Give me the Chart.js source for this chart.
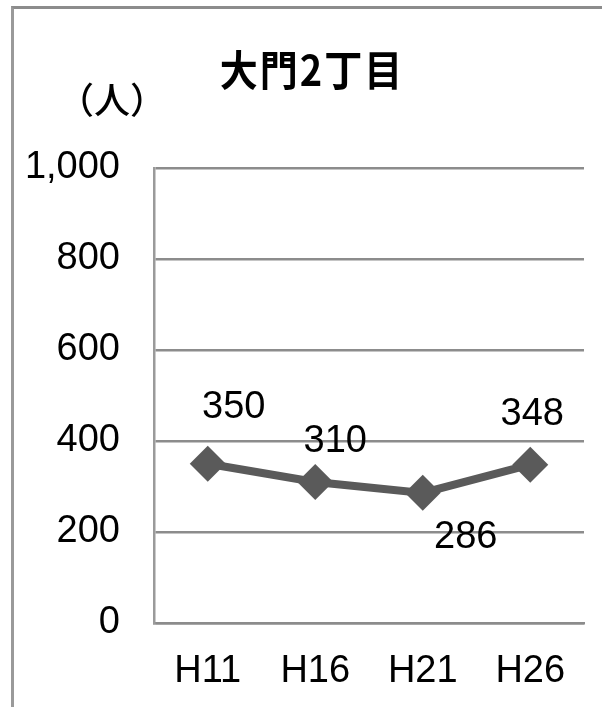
<!DOCTYPE html>
<html>
<head>
<meta charset="utf-8">
<script src="https://cdn.jsdelivr.net/npm/chart.js@4/dist/chart.umd.min.js"></script>
<style>
  html, body { margin: 0; padding: 0; background: #fff; }
  #frame {
    position: absolute; left: 11px; top: 6px; width: 620px; height: 720px;
    border-top: 3px solid #8c8c8c; border-left: 3px solid #9a9a9a;
  }
  #wrap { position: absolute; left: 0; top: 0; width: 602px; height: 707px; }
</style>
</head>
<body>
<div id="frame"></div>
<div id="wrap"><canvas id="myChart"></canvas></div>
<script>
// Population of 大門2丁目 by survey year
const years = ['H11', 'H16', 'H21', 'H26'];
const people = [350, 310, 286, 348];
const yTicks = [0, 200, 400, 600, 800, 1000];

// Where each value label sits relative to its marker (px)
const labelOffsets = [[26, -56], [20, -40], [43, 45], [2, -50]];

const textFont = "'Liberation Sans', Arial, sans-serif";
const cjkFont = "'Noto Sans CJK JP', sans-serif";

// Title, unit and value labels drawn straight on the canvas
const annotate = {
    id: 'annotate',
    afterDatasetsDraw(chart) {
        const ctx = chart.ctx;
        ctx.save();
        ctx.fillStyle = '#000';
        ctx.textAlign = 'center';
        ctx.textBaseline = 'middle';

        // title is drawn a touch taller than wide
        ctx.save();
        ctx.translate(312, 70);
        ctx.scale(1, 1.1);
        ctx.font = 'bold 38px ' + cjkFont;
        ctx.letterSpacing = '2px';
        ctx.fillText('大門2丁目', 0, 0);
        ctx.restore();

        ctx.font = '500 36px ' + cjkFont;
        ctx.fillText('（人）', 112, 100);

        ctx.font = '38px ' + textFont;
        chart.getDatasetMeta(0).data.forEach(function(pt, i) {
            const off = labelOffsets[i];
            ctx.fillText(String(people[i]), pt.x + off[0], pt.y + off[1]);
        });
        ctx.restore();
    }
};

const data = {
    labels: years,
    datasets: [{
        data: people,
        borderColor: '#5a5a5a',
        borderWidth: 8,
        tension: 0,
        pointStyle: 'rectRot',
        pointRadius: 18,
        pointBackgroundColor: '#5a5a5a',
        pointBorderWidth: 0
    }]
};

const config = {
    type: 'line',
    data,
    options: {
        responsive: false,
        animation: false,
        events: [],
        layout: { padding: { top: 168, right: 14, left: 0, bottom: 0 } },
        plugins: {
            legend: { display: false },
            tooltip: { enabled: false }
        },
        scales: {
            x: {
                offset: true,
                grid: { display: false },
                border: { display: true, color: '#8c8c8c', width: 2.5 },
                ticks: { color: '#000', padding: 18, font: { family: textFont, size: 38 } },
                afterFit(scale) { scale.height = 84; }
            },
            y: {
                min: 0,
                max: 1000,
                afterBuildTicks(scale) { scale.ticks = yTicks.map(v => ({ value: v })); },
                grid: { color: '#8c8c8c', lineWidth: 2.5, drawTicks: false },
                border: { display: true, color: '#9a9a9a', width: 2.5 },
                ticks: {
                    color: '#000',
                    padding: 34,
                    font: { family: textFont, size: 38 },
                    callback: v => v.toLocaleString('en-US')
                },
                afterFit(scale) { scale.width = 154; }
            }
        }
    },
    plugins: [annotate]
};

const canvas = document.getElementById('myChart');
canvas.width = 602;
canvas.height = 707;
const myChart = new Chart(canvas, config);
</script>
</body>
</html>
